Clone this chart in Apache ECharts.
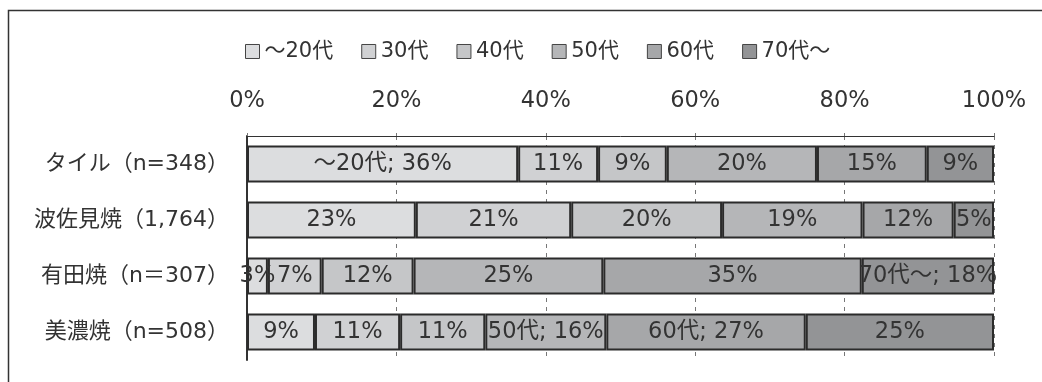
<!DOCTYPE html>
<html><head><meta charset="utf-8">
<script src="https://cdn.jsdelivr.net/npm/echarts@6/dist/echarts.min.js"></script>
<style>html,body{margin:0;padding:0;background:#fff}#c{width:1042px;height:382px}</style>
</head><body><div id="c"></div>
<script>
const categories = ['タイル（n=348）', '波佐見焼（1,764）', '有田焼（n＝307）', '美濃焼（n=508）'];
const seriesNames = ['～20代', '30代', '40代', '50代', '60代', '70代～'];
const age20 = [36.3, 22.6, 2.8, 9.1];
const age30 = [10.7, 20.8, 7.2, 11.4];
const age40 = [9.2, 20.2, 12.3, 11.4];
const age50 = [20.1, 18.8, 25.4, 16.2];
const age60 = [14.7, 12.2, 34.6, 26.7];
const age70 = [9.0, 5.4, 17.7, 25.2];
const seriesValues = [age20, age30, age40, age50, age60, age70];
// labels that also show the series name: [category index, series index]
const namedLabels = [[0, 0], [2, 5], [3, 3], [3, 4]];
const tickValues = [0, 20, 40, 60, 80, 100];

const colors = ['#dcdddf', '#d0d1d3', '#c5c6c8', '#b5b6b8', '#a6a7a9', '#939496'];
const FONT = "'DejaVu Sans', 'Noto Sans CJK JP', sans-serif";

const chart = echarts.init(document.getElementById('c'), null, {renderer: 'canvas'});
const series = seriesNames.map((name, si) => ({
  name, type: 'bar', stack: 'total', barWidth: 37,
  data: seriesValues[si],
  itemStyle: {color: colors[si], borderColor: '#2b2b2b', borderWidth: 2},
  label: {
    show: true, position: 'inside', color: '#333', fontSize: 22.5, fontFamily: FONT,
    formatter: p => {
      const v = Math.round(p.value) + '%';
      return namedLabels.some(([c, s]) => c === p.dataIndex && s === si) ? name + '; ' + v : v;
    }
  },
  emphasis: {disabled: true}
}));

chart.setOption({
  animation: false,
  textStyle: {fontFamily: FONT},
  graphic: [{type: 'polyline', shape: {points: [[8.5, 382], [8.5, 10.5], [1042, 10.5]]},
    style: {stroke: '#333', lineWidth: 1.5, fill: null}}],
  legend: {
    top: 36, left: 240, itemWidth: 14, itemHeight: 14, itemGap: 28,
    icon: 'rect',
    itemStyle: {borderWidth: 1, borderColor: '#444'},
    textStyle: {fontSize: 21, color: '#333', fontFamily: FONT},
    data: seriesNames
  },
  grid: {left: 247, right: 48, top: 136, bottom: 22, containLabel: false},
  xAxis: {
    type: 'value', position: 'top', min: tickValues[0], max: tickValues[tickValues.length - 1], interval: 20,
    axisLine: {show: true, lineStyle: {color: '#333', width: 1}},
    axisTick: {show: true, length: 6, lineStyle: {color: '#777', type: [3, 3]}},
    axisLabel: {formatter: '{value}%', fontSize: 22.5, color: '#333', margin: 24, fontFamily: FONT},
    splitLine: {show: true, lineStyle: {color: '#777', type: [4, 5], width: 1}}
  },
  yAxis: {
    type: 'category', inverse: true, data: categories,
    axisLine: {show: true, lineStyle: {color: '#333', width: 2}},
    axisTick: {show: false},
    axisLabel: {fontSize: 22, color: '#333', margin: 18, fontFamily: FONT}
  },
  series
});
</script></body></html>
